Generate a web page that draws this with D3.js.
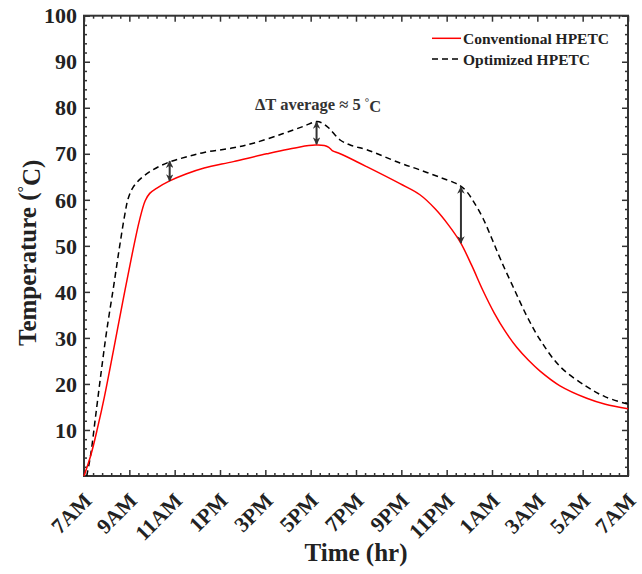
<!DOCTYPE html>
<html>
<head>
<meta charset="utf-8">
<script src="https://cdn.jsdelivr.net/npm/d3@7"></script>
<style>
  body { margin: 0; background: #fff; }
  svg text { font-family: "Liberation Serif", "Times New Roman", serif; font-weight: bold; fill: #222; }
</style>
</head>
<body>
<div class="graphics"></div>
<script>
// horas desde las 7AM
var hourTicks = [0, 2, 4, 6, 8, 10, 12, 14, 16, 18, 20, 22, 24];
var hourLabels = ["7AM", "9AM", "11AM", "1PM", "3PM", "5PM", "7PM", "9PM", "11PM", "1AM", "3AM", "5AM", "7AM"];
var tempTicks = [10, 20, 30, 40, 50, 60, 70, 80, 90, 100];

// Conventional HPETC
var convHours = [0, 0.3, 0.6, 0.9, 1.3, 1.7, 2.1, 2.45, 2.7, 2.9, 3.2, 3.78, 4.5, 5.3, 6.59, 8.06, 9.53, 10.2, 10.6, 10.8, 10.95, 11.3, 12.47, 13.94, 14.82, 15.5, 16.1, 16.6, 17.1, 17.6, 18.1, 18.6, 19.1, 19.6, 20.12, 21, 22.18, 23, 24];
var convTemp = [0, 4.5, 10.5, 17.2, 27.3, 37.6, 47.6, 55.6, 59.8, 61.4, 62.5, 64.1, 65.6, 66.9, 68.3, 70, 71.5, 71.9, 71.8, 71.4, 70.7, 70, 67.2, 63.5, 61.1, 58, 54.4, 50.8, 45.8, 40.3, 35.4, 31.3, 27.9, 25.2, 22.8, 19.6, 16.9, 15.6, 14.6];

// Optimized HPETC
var optHours = [0.12, 0.3, 0.5, 0.75, 1.0, 1.3, 1.55, 1.8, 1.95, 2.15, 2.5, 3.0, 3.75, 4.5, 5.3, 6.59, 7.47, 8.79, 9.7, 10.26, 10.5, 10.8, 11.3, 11.8, 12.47, 13.94, 14.82, 15.7, 16.3, 16.59, 16.9, 17.2, 17.6, 18.0, 18.4, 18.94, 19.53, 20.12, 21, 22.18, 23, 24];
var optTemp = [0, 4.8, 12.5, 22.3, 31.5, 41, 49.2, 56.8, 60.3, 62.6, 64.6, 66.4, 68.2, 69.3, 70.3, 71.3, 72.3, 74.4, 76, 77, 76.7, 75.6, 73, 71.8, 70.9, 68, 66.5, 64.9, 63.8, 63.1, 61.7, 59.5, 56, 51.5, 46.8, 41, 34.8, 29.6, 23.8, 19.4, 17.2, 15.6];

// flechas de diferencia
var arrowHours = [3.78, 10.26, 16.63];
var arrowTop = [68.4, 76.9, 62.8];
var arrowBottom = [64.1, 72.1, 50.6];

var w = 642, h = 574;
// ojo: "top" es de window, uso otros nombres
var pLeft = 84, pRight = 628, pTop = 15.7, pBottom = 476;

var svg = d3.select('.graphics').append('svg')
    .attr('width', w).attr('height', h);

var x = d3.scaleLinear().domain([0, 24]).range([pLeft, pRight]);
var y = d3.scaleLinear().domain([0, 100]).range([pBottom, pTop]);

var minorX = d3.range(0, 24.01, 0.4).filter(function(d){ return Math.abs(d / 2 - Math.round(d / 2)) > 0.01; });
var minorY = d3.range(2, 100, 2).filter(function(d){ return d % 10 !== 0; });

// ejes con ticks hacia adentro (4 lados)
function addAxis(axis, tx, ty){
    var g = svg.append('g').attr('transform', 'translate(' + tx + ',' + ty + ')').call(axis);
    g.select('.domain').remove();
    g.selectAll('line').attr('stroke', '#333').attr('stroke-width', 1.5);
    g.selectAll('text').remove();
}
addAxis(d3.axisBottom(x).tickValues(hourTicks).tickSize(-6), 0, pBottom);
addAxis(d3.axisBottom(x).tickValues(minorX).tickSize(-3), 0, pBottom);
addAxis(d3.axisTop(x).tickValues(hourTicks).tickSize(-6), 0, pTop);
addAxis(d3.axisTop(x).tickValues(minorX).tickSize(-3), 0, pTop);
addAxis(d3.axisLeft(y).tickValues(tempTicks).tickSize(-6), pLeft, 0);
addAxis(d3.axisLeft(y).tickValues(minorY).tickSize(-3), pLeft, 0);
addAxis(d3.axisRight(y).tickValues(tempTicks).tickSize(-6), pRight, 0);
addAxis(d3.axisRight(y).tickValues(minorY).tickSize(-3), pRight, 0);

svg.append('rect')
    .attr('x', pLeft).attr('y', pTop)
    .attr('width', pRight - pLeft).attr('height', pBottom - pTop)
    .attr('fill', 'none').attr('stroke', '#333').attr('stroke-width', 2);

// etiquetas
svg.selectAll('.ylab').data(tempTicks).enter().append('text')
    .attr('class', 'ylab')
    .attr('x', pLeft - 7).attr('y', function(d){ return y(d); })
    .attr('dy', '0.35em').attr('text-anchor', 'end')
    .style('font-size', '22px')
    .text(function(d){ return d; });

svg.selectAll('.xlab').data(hourTicks).enter().append('text')
    .attr('class', 'xlab')
    .attr('text-anchor', 'end')
    .attr('transform', function(d){ return 'translate(' + (x(d) + 9) + ',' + 502 + ') rotate(-45)'; })
    .style('font-size', '21.5px')
    .text(function(d, i){ return hourLabels[i]; });

svg.append('text')
    .attr('x', (pLeft + pRight) / 2).attr('y', 561)
    .attr('text-anchor', 'middle').style('font-size', '25px')
    .text('Time (hr)');

var yt = svg.append('text')
    .attr('transform', 'translate(36,' + ((pTop + pBottom) / 2 + 7) + ') rotate(-90)')
    .attr('text-anchor', 'middle').style('font-size', '25px');
yt.append('tspan').text('Temperature (');
yt.append('tspan').attr('dy', '-0.45em').style('font-size', '16px').text('°');
yt.append('tspan').attr('dy', '0.45em').text('C)');

// lineas
var line = d3.line().curve(d3.curveCatmullRom.alpha(0.5));
var convPts = convHours.map(function(d, i){ return [x(d), y(convTemp[i])]; });
var optPts = optHours.map(function(d, i){ return [x(d), y(optTemp[i])]; });

svg.append('path').attr('d', line(optPts))
    .attr('fill', 'none').attr('stroke', '#000').attr('stroke-width', 1.5)
    .attr('stroke-dasharray', '6,4');
svg.append('path').attr('d', line(convPts))
    .attr('fill', 'none').attr('stroke', '#ff0000').attr('stroke-width', 1.5);

// flechas
svg.append('defs').append('marker')
    .attr('id', 'head').attr('viewBox', '0 0 10 10')
    .attr('refX', 9).attr('refY', 5)
    .attr('markerWidth', 3.8).attr('markerHeight', 3.8)
    .attr('orient', 'auto-start-reverse')
    .append('path').attr('d', 'M0,0 L10,5 L0,10 L3,5 Z').attr('fill', '#333');

svg.selectAll('.arrow').data(arrowHours).enter().append('line')
    .attr('class', 'arrow')
    .attr('x1', function(d){ return x(d); })
    .attr('x2', function(d){ return x(d); })
    .attr('y1', function(d, i){ return y(arrowTop[i]); })
    .attr('y2', function(d, i){ return y(arrowBottom[i]); })
    .attr('stroke', '#333').attr('stroke-width', 2)
    .attr('marker-start', 'url(#head)').attr('marker-end', 'url(#head)');

var ann = svg.append('text').attr('x', 255).attr('y', 110).style('font-size', '16.5px').style('fill', '#333');
ann.append('tspan').text('ΔT average ≈ 5 ');
ann.append('tspan').attr('dy', '-0.4em').style('font-size', '11px').text('°');
ann.append('tspan').attr('dy', '0.4em').text('C');

// leyenda
svg.append('line').attr('x1', 432).attr('x2', 461).attr('y1', 38.3).attr('y2', 38.3)
    .attr('stroke', '#ff0000').attr('stroke-width', 1.5);
svg.append('line').attr('x1', 432).attr('x2', 461).attr('y1', 59).attr('y2', 59)
    .attr('stroke', '#000').attr('stroke-width', 1.5).attr('stroke-dasharray', '6,4');
svg.append('text').attr('x', 463).attr('y', 44).style('font-size', '15.5px').text('Conventional HPETC');
svg.append('text').attr('x', 463).attr('y', 65).style('font-size', '15.5px').text('Optimized HPETC');
</script>
</body>
</html>
